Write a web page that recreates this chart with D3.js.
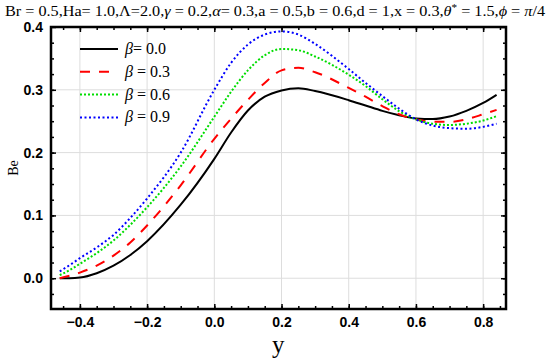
<!DOCTYPE html>
<html>
<head>
<meta charset="utf-8">
<script src="https://d3js.org/d3.v7.min.js"></script>
<style>
  * { box-sizing: border-box; }
  body { margin: 0; background: #fff; }
  .tick text { font-family: "Liberation Sans", Arial, sans-serif; font-weight: bold; font-size: 14px; fill: #000; }
</style>
</head>
<body>
<div id="chart"></div>
<script>
// data
var xs = [-0.46, -0.43, -0.4, -0.35, -0.3, -0.25, -0.2, -0.1, 0.0, 0.05, 0.1, 0.15, 0.2, 0.25, 0.3, 0.4, 0.45, 0.5, 0.55, 0.6, 0.65, 0.7, 0.75, 0.8, 0.84];
var beta00 = [0.0, 0.0, 0.001, 0.008, 0.02, 0.037, 0.059, 0.117, 0.19, 0.232, 0.267, 0.289, 0.299, 0.3025, 0.298, 0.2835, 0.275, 0.2665, 0.2595, 0.2545, 0.2535, 0.2575, 0.2665, 0.279, 0.292];
var beta03 = [0.0, 0.004, 0.009, 0.02, 0.036, 0.057, 0.084, 0.148, 0.222, 0.254, 0.284, 0.311, 0.331, 0.335, 0.328, 0.303, 0.289, 0.274, 0.261, 0.253, 0.249, 0.249, 0.253, 0.261, 0.268];
var beta06 = [0.005, 0.013, 0.023, 0.04, 0.06, 0.085, 0.113, 0.178, 0.257, 0.297, 0.331, 0.355, 0.365, 0.363, 0.353, 0.324, 0.306, 0.285, 0.266, 0.253, 0.246, 0.244, 0.246, 0.251, 0.258];
var beta09 = [0.011, 0.021, 0.032, 0.049, 0.069, 0.096, 0.127, 0.2, 0.30, 0.343, 0.372, 0.388, 0.393, 0.388, 0.373, 0.333, 0.311, 0.29, 0.27, 0.253, 0.243, 0.239, 0.238, 0.241, 0.246];
var labels = ["0.0", "0.3", "0.6", "0.9"];
var xTicks = [-0.4, -0.2, 0.0, 0.2, 0.4, 0.6, 0.8];
var yTicks = [0.0, 0.1, 0.2, 0.3, 0.4];

var series = [
  {name: labels[0], values: beta00, color: "#000", dash: null},
  {name: labels[1], values: beta03, color: "#f00", dash: "10,9"},
  {name: labels[2], values: beta06, color: "#0d0", dash: "2,2"},
  {name: labels[3], values: beta09, color: "#00f", dash: "2,2.5"}
];

var W = 550, H = 361;
var margin = {top: 27, right: 44, bottom: 52, left: 51},
    width = W - margin.left - margin.right,
    height = H - margin.top - margin.bottom;

var svg = d3.select("#chart").append("svg")
    .attr("width", W).attr("height", H);

// title with parameters
var title = svg.append("text")
    .attr("x", 5).attr("y", 16)
    .attr("textLength", 540).attr("lengthAdjust", "spacingAndGlyphs")
    .style("font-family", "'Liberation Serif', 'Times New Roman', serif")
    .style("font-size", "14.5px");
var parts = [
  ["Br = 0.5,Ha= 1.0,\u039B=2.0,", 0], ["\u03B3", 1], [" = 0.2,", 0], ["\u03B1", 1], ["= 0.3,a = 0.5,b = 0.6,d = 1,x = 0.3,", 0],
  ["\u03B8", 1], ["*", 2], [" = 1.5,", 0], ["\u03D5", 1], [" = ", 0], ["\u03C0", 1], ["/4", 0]
];
parts.forEach(function(p) {
  var t = title.append("tspan").text(p[0]);
  if (p[1] == 1) t.style("font-style", "italic");
  if (p[1] == 2) t.attr("dy", -5).style("font-size", "10px");
  if (p[1] == 0 && p[0] == " = 1.5,") t.attr("dy", 5);
});

var g = svg.append("g").attr("transform", "translate(" + margin.left + "," + margin.top + ")");

var x = d3.scaleLinear().domain([-0.486, 0.868]).range([0, width]);
var y = d3.scaleLinear().domain([-0.049, 0.4]).range([height, 0]);

// grid
g.selectAll(".gx").data(xTicks).enter().append("line")
  .attr("x1", d => x(d)).attr("x2", d => x(d)).attr("y1", 0).attr("y2", height)
  .attr("stroke", "#ddd").attr("stroke-width", 1);
g.selectAll(".gy").data(yTicks).enter().append("line")
  .attr("y1", d => y(d)).attr("y2", d => y(d)).attr("x1", 0).attr("x2", width)
  .attr("stroke", "#ddd").attr("stroke-width", 1);

var fmt = function(d) { return d3.format(".1f")(d).replace("-", "\u2212"); };
var xMinor = d3.range(-0.45, 0.86, 0.05);
var yMinor = d3.range(-0.025, 0.4, 0.025);

// axes: bottom / left with labels, top / right mirrored ticks
g.append("g").attr("transform", "translate(0," + height + ")")
  .call(d3.axisBottom(x).tickValues(xMinor).tickSize(-3).tickFormat(""))
  .call(s => s.select(".domain").remove());
g.append("g").attr("transform", "translate(0," + height + ")")
  .call(d3.axisBottom(x).tickValues(xTicks).tickSize(-5).tickPadding(8).tickFormat(fmt))
  .call(s => s.select(".domain").remove());
g.append("g")
  .call(d3.axisTop(x).tickValues(xMinor).tickSize(-3).tickFormat(""))
  .call(s => s.select(".domain").remove());
g.append("g")
  .call(d3.axisTop(x).tickValues(xTicks).tickSize(-5).tickFormat(""))
  .call(s => s.select(".domain").remove());

g.append("g")
  .call(d3.axisLeft(y).tickValues(yMinor).tickSize(-3).tickFormat(""))
  .call(s => s.select(".domain").remove());
g.append("g")
  .call(d3.axisLeft(y).tickValues(yTicks).tickSize(-5).tickPadding(8).tickFormat(fmt))
  .call(s => s.select(".domain").remove());
g.append("g").attr("transform", "translate(" + width + ",0)")
  .call(d3.axisRight(y).tickValues(yMinor).tickSize(-3).tickFormat(""))
  .call(s => s.select(".domain").remove());
g.append("g").attr("transform", "translate(" + width + ",0)")
  .call(d3.axisRight(y).tickValues(yTicks).tickSize(-5).tickFormat(""))
  .call(s => s.select(".domain").remove());
g.selectAll(".tick line").attr("stroke", "#000").attr("stroke-width", 1.5);

// curves
var line = d3.line()
  .x((d, i) => x(xs[i]))
  .y(d => y(d))
  .curve(d3.curveMonotoneX);

series.forEach(function(s) {
  g.append("path")
    .datum(s.values)
    .attr("d", line)
    .attr("fill", "none")
    .attr("stroke", s.color)
    .attr("stroke-width", 2)
    .attr("stroke-dasharray", s.dash);
});

// frame
g.append("rect").attr("width", width).attr("height", height)
  .attr("fill", "none").attr("stroke", "#000").attr("stroke-width", 2.5);

// legend
var legend = g.append("g").attr("transform", "translate(29,22)");
series.forEach(function(s, i) {
  var row = legend.append("g").attr("transform", "translate(0," + (i * 22.8) + ")");
  row.append("line").attr("x1", 0).attr("x2", 38).attr("y1", 0).attr("y2", 0)
    .attr("stroke", s.color).attr("stroke-width", 2)
    .attr("stroke-dasharray", s.dash);
  var t = row.append("text").attr("x", 45).attr("y", 5)
    .style("font-family", "'Liberation Serif', 'Times New Roman', serif")
    .style("font-size", "16px");
  t.append("tspan").style("font-style", "italic").text("\u03B2");
  t.append("tspan").text((i == 0 ? "= " : " = ") + s.name);
});

// axis titles
svg.append("text")
  .attr("transform", "translate(18," + (margin.top + height / 2) + ") rotate(-90)")
  .attr("text-anchor", "middle")
  .style("font-family", "'Liberation Serif', 'Times New Roman', serif")
  .style("font-size", "14px")
  .text("Be");
svg.append("text")
  .attr("x", margin.left + x(0.19)).attr("y", 353)
  .attr("text-anchor", "middle")
  .style("font-family", "'Liberation Serif', 'Times New Roman', serif")
  .style("font-size", "25px")
  .text("y");
</script>
</body>
</html>
